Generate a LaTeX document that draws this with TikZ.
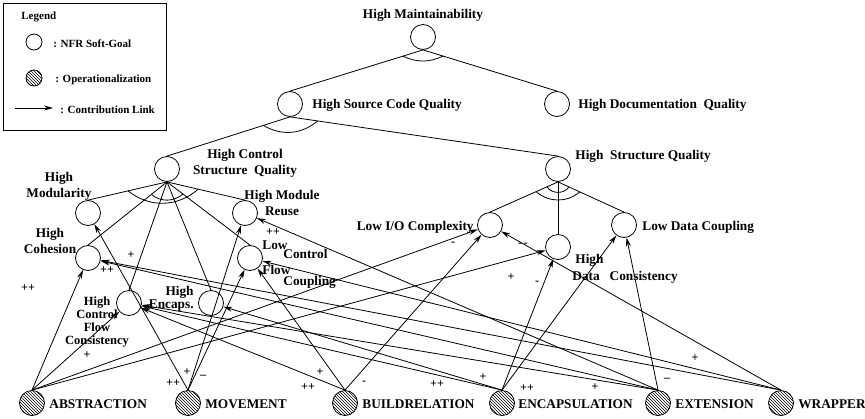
\documentclass[tikz,border=0pt]{standalone}
\usepackage{fontspec}
\setmainfont{Liberation Serif}
\usetikzlibrary{arrows.meta,positioning,calc,patterns}

\begin{document}
\begin{tikzpicture}[x=1pt,y=-1pt,
    line width=0.8pt,
    goal/.style={draw, circle, minimum size=25pt, inner sep=0pt},
    oper/.style={goal, pattern=north west lines},
    txt/.style={font=\fontsize{13.3}{16}\selectfont\bfseries, inner sep=0pt},
    sml/.style={font=\fontsize{11}{13}\selectfont\bfseries, inner sep=0pt},
    lbl/.style={font=\fontsize{12}{12}\selectfont\bfseries, inner sep=0pt},
    refine/.style={-},
    contrib/.style={-{Stealth[length=9pt,width=5pt]}},
    andarc/.style={bend right=#1},
  ]
  \useasboundingbox (0,0) rectangle (865,418);

  % Legend
  \node[draw, minimum width=163pt, minimum height=127pt, anchor=north west, line width=1pt] (legend) at (3,3) {};
  \node[sml, anchor=west] (legt) at (21,17) {Legend};
  \node[draw, circle, minimum width=14pt, minimum height=16pt, inner sep=0pt] (lgoal) at (34,42) {};
  \node[sml, anchor=west] (lgoalt) at (53,44) {: NFR Soft-Goal};
  \node[draw, circle, minimum width=14pt, minimum height=16pt, inner sep=0pt, pattern=north west lines] (loper) at (34,78) {};
  \node[sml, anchor=west] (lopert) at (55,80) {: Operationalization};
  \coordinate (larr0) at (15,108);
  \coordinate (larr1) at (53,108);
  \node[sml, anchor=west] (larrt) at (60,110) {: Contribution Link};
  \draw[contrib] (larr0) -- (larr1);

  % Soft-goals
  \node[goal] (hm) at (423,37) {};
  \node[goal] (hscq) at (290,104) {};
  \node[goal] (hdq) at (557,104) {};
  \node[goal] (hcsq) at (167,169) {};
  \node[goal] (hsq) at (558,169) {};
  \node[goal] (hmod) at (88,213) {};
  \node[goal] (hreuse) at (245,213) {};
  \node[goal] (hcoh) at (88,258) {};
  \node[goal] (lcfc) at (250,258) {};
  \node[goal] (hcfc) at (129,303) {};
  \node[goal] (henc) at (211,303) {};
  \node[goal] (lioc) at (490,225) {};
  \node[goal] (hdc) at (558,247) {};
  \node[goal] (ldc) at (624,225) {};

  % Operationalizations
  \node[oper] (abs) at (32,403) {};
  \node[oper] (mov) at (188,403) {};
  \node[oper] (bld) at (345,403) {};
  \node[oper] (enc) at (502,403) {};
  \node[oper] (ext) at (658,403) {};
  \node[oper] (wrp) at (781,403) {};

  % Texts
  \node[txt] (hmt) at (423,15) {High Maintainability};
  \node[txt, anchor=west] (hscqt) at (312,105) {High Source Code Quality};
  \node[txt, anchor=west] (hdqt) at (578,105) {High Documentation\ \ Quality};
  \node[txt, align=center] (hcsqt) at (245,163) {High Control\\Structure\ \ Quality};
  \node[txt, anchor=west] (hsqt) at (575,156) {High\ \ Structure Quality};
  \node[txt, align=center] (hmodt) at (59,186) {High\\Modularity};
  \node[txt, align=center] (hreuset) at (282,203) {High Module\\Reuse};
  \node[txt, align=center] (hcoht) at (50,241) {High\\Cohesion};
  \node[txt, align=left, anchor=west, font=\fontsize{13.3}{25}\selectfont\bfseries] (lcfct1) at (262,258) {Low\\Flow};
  \node[txt, align=left, anchor=west, font=\fontsize{13.3}{27}\selectfont\bfseries] (lcfct2) at (283,269) {Control\\Coupling};
  \node[txt, align=center, font=\fontsize{12.5}{13}\selectfont\bfseries] (hcfct) at (97,322) {High\\Control\\Flow\\Consistency};
  \node[txt, align=right, anchor=east, font=\fontsize{13.3}{11}\selectfont\bfseries] (henct) at (194,299) {High\\Encaps.};
  \node[txt, anchor=east] (lioct) at (474,227) {Low I/O Complexity};
  \node[txt, anchor=west] (hdct1) at (575,260) {High};
  \node[txt, anchor=west] (hdct2) at (572,277) {Data\ \ \ Consistency};
  \node[txt, anchor=west] (ldct) at (642,227) {Low Data Coupling};
  \node[txt, anchor=west] (abst) at (49,404) {ABSTRACTION};
  \node[txt, anchor=west] (movt) at (205,404) {MOVEMENT};
  \node[txt, anchor=west] (bldt) at (362,404) {BUILDRELATION};
  \node[txt, anchor=west] (enct) at (518,404) {ENCAPSULATION};
  \node[txt, anchor=west] (extt) at (675,404) {EXTENSION};
  \node[txt, anchor=west] (wrpt) at (798,404) {WRAPPER};

  % Refinements
  \draw[refine] (hm.south) -- (hscq.north);
  \draw[refine] (hm.south) -- (hdq.north);
  \draw ($(hm.south)!21pt!(hscq.north)$) to[andarc=25] ($(hm.south)!21pt!(hdq.north)$);
  \draw[refine] (hscq.south) -- (hcsq.north);
  \draw[refine] (hscq.south) -- (hsq.north);
  \draw ($(hscq.south)!28pt!(hcsq.north)$) to[andarc=35] ($(hscq.south)!28pt!(hsq.north)$);
  \foreach \c in {hmod,hreuse,hcoh,lcfc,hcfc,henc}
    \draw[refine] (hcsq.south) -- (\c.north);
  \draw ($(hcsq.south)!40pt!(hmod.north)$) to[andarc=40] ($(hcsq.south)!32pt!(hreuse.north)$);
  \draw ($(hcsq.south)!20pt!(hcoh.north)$) to[andarc=40] ($(hcsq.south)!20pt!(lcfc.north)$);
  \foreach \c in {lioc,hdc,ldc}
    \draw[refine] (hsq.south) -- (\c.north);
  \draw ($(hsq.south)!24pt!(lioc.north)$) to[andarc=40] ($(hsq.south)!24pt!(ldc.north)$);
  \draw ($(hsq.south)!12pt!(lioc.north)$) to[andarc=60] ($(hsq.south)!12pt!(ldc.north)$);

  % Contributions
  \draw[contrib] (abs.north) -- (hcoh);
  \draw[contrib] (abs.north) -- (hcfc);
  \draw[contrib] (abs.north) -- (lioc);
  \draw[contrib] (abs.north) -- (hdc);
  \draw[contrib] (mov.north) -- (hmod);
  \draw[contrib] (mov.north) -- (hreuse);
  \draw[contrib] (mov.north) -- (lcfc);
  \draw[contrib] (bld.north) -- (lcfc);
  \draw[contrib] (bld.north) -- (hcfc);
  \draw[contrib] (bld.north) -- (lioc);
  \draw[contrib] (enc.north) -- (henc);
  \draw[contrib] (enc.north) -- (hcfc);
  \draw[contrib] (enc.north) -- (hdc);
  \draw[contrib] (enc.north) -- (ldc);
  \draw[contrib] (ext.north) -- (hreuse);
  \draw[contrib] (ext.north) -- (hcfc);
  \draw[contrib] (ext.north) -- (hcoh);
  \draw[contrib] (ext.north) -- (ldc);
  \draw[contrib] (wrp.north) -- (lioc);
  \draw[contrib] (wrp.north) -- (hcoh);
  \draw[contrib] (wrp.north) -- (lcfc);

  % Contribution labels
  \node[lbl] (c1) at (28,288) {++};
  \node[lbl] (c2) at (87,355) {+};
  \node[lbl] (c3) at (453,244) {-};
  \node[lbl] (c4) at (511,277) {+};
  \node[lbl] (c5) at (173,383) {++};
  \node[lbl] (c6) at (187,372) {+};
  \node[lbl] (c7) at (203,377) {--};
  \node[lbl] (c8) at (320,372) {+};
  \node[lbl] (c9) at (308,387) {++};
  \node[lbl] (c10) at (364,383) {-};
  \node[lbl] (c11) at (537,283) {-};
  \node[lbl] (c12) at (527,388) {++};
  \node[lbl] (c13) at (437,384) {++};
  \node[lbl] (c14) at (483,377) {+};
  \node[lbl] (c15) at (667,380) {--};
  \node[lbl] (c16) at (273,232) {++};
  \node[lbl] (c17) at (595,387) {+};
  \node[lbl] (c18) at (523,245) {-\,-};
  \node[lbl] (c19) at (695,358) {+};
  \node[lbl] (c20) at (131,255) {+};
  \node[lbl] (c21) at (107,270) {++};
\end{tikzpicture}
\end{document}
